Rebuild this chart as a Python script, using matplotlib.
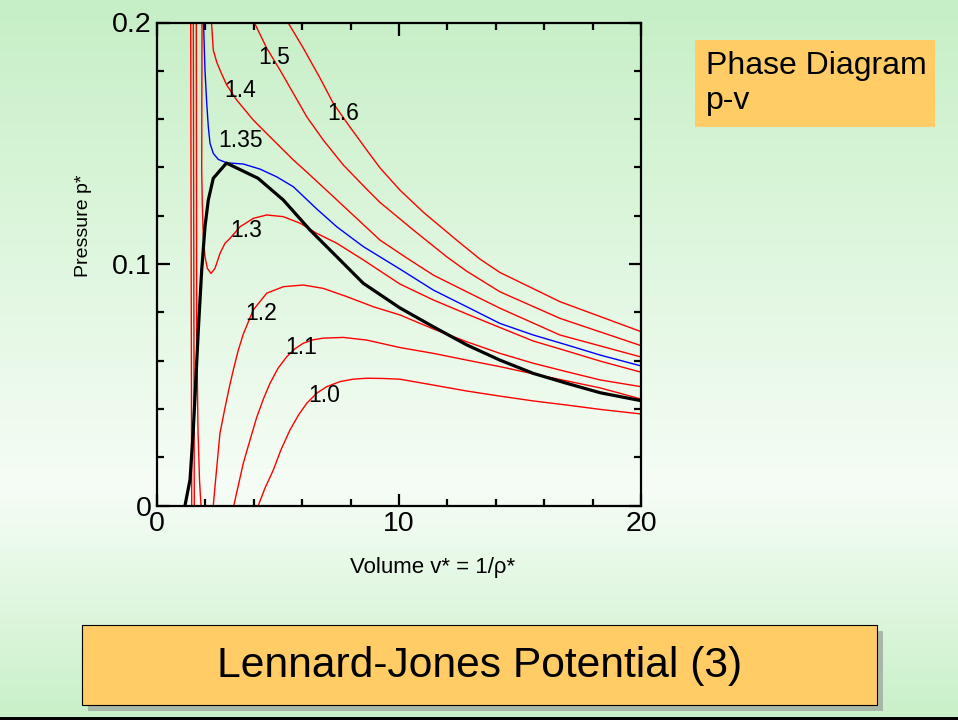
import numpy as np
import matplotlib
matplotlib.use("Agg")
import matplotlib.pyplot as plt
from matplotlib.patches import Rectangle

plt.rcParams['font.family'] = ['Liberation Sans', 'DejaVu Sans']

# ---------------- data ----------------
# liquid (steep) branches
v_liq_10 = [1.392, 1.434]
p_liq_10 = [0.2, 0.0]
v_liq_11 = [1.500, 1.541]
p_liq_11 = [0.2, 0.0]
v_liq_12 = [1.624, 1.640, 1.694, 1.756, 1.818]
p_liq_12 = [0.2, 0.0727, 0.0313, 0.0106, 0.0]

# gas branches
v_10 = [4.186, 4.463, 4.806, 5.12, 5.496, 5.85, 6.186, 6.60, 7.012, 7.56, 8.10, 8.665, 9.35, 10.04, 11.40, 12.80, 14.17, 15.55, 16.93, 18.31, 20.0]
p_10 = [0.0, 0.0072, 0.0147, 0.023, 0.0313, 0.0375, 0.0423, 0.0465, 0.0492, 0.0513, 0.0523, 0.0527, 0.0526, 0.0523, 0.0499, 0.0474, 0.0453, 0.0433, 0.0416, 0.0398, 0.0379]

v_11 = [3.174, 3.566, 3.843, 4.12, 4.40, 4.669, 5.0, 5.36, 5.70, 6.045, 6.45, 6.872, 7.698, 8.665, 10.04, 11.42, 12.80, 14.17, 15.55, 16.93, 18.31, 20.0]
p_11 = [0.0, 0.0175, 0.0271, 0.0365, 0.0442, 0.0506, 0.0568, 0.0616, 0.0649, 0.0672, 0.0686, 0.0693, 0.0696, 0.0685, 0.0654, 0.0630, 0.0602, 0.0575, 0.0545, 0.0516, 0.0487, 0.0441]

v_12 = [2.326, 2.459, 2.603, 2.81, 3.0, 3.153, 3.35, 3.566, 3.979, 4.533, 5.219, 6.045, 6.872, 7.839, 8.938, 10.04, 11.42, 12.80, 14.17, 15.55, 16.93, 18.31, 20.0]
p_12 = [0.0, 0.0147, 0.0300, 0.0405, 0.0495, 0.0561, 0.0640, 0.0710, 0.0810, 0.0879, 0.0906, 0.0913, 0.0899, 0.0865, 0.0823, 0.0789, 0.0731, 0.0678, 0.0630, 0.0589, 0.0554, 0.0520, 0.0492]

v_13 = [1.860, 1.847, 1.872, 1.913, 1.983, 2.079, 2.231, 2.397, 2.603, 2.81, 3.017, 3.43, 3.98, 4.533, 5.22, 5.91, 6.60, 7.43, 8.525, 10.04, 11.42, 12.80, 14.17, 15.55, 16.93, 18.31, 20.0]
p_13 = [0.2, 0.1389, 0.1251, 0.1113, 0.1030, 0.0982, 0.0961, 0.0982, 0.1044, 0.1086, 0.1106, 0.1154, 0.1189, 0.1203, 0.1196, 0.1169, 0.1127, 0.1086, 0.1017, 0.0917, 0.0851, 0.0793, 0.0737, 0.0681, 0.0640, 0.0598, 0.0552]

v_135 = [1.921, 1.983, 2.054, 2.12, 2.19, 2.326, 2.533, 2.88, 3.566, 4.256, 4.946, 5.632, 6.60, 7.43, 8.525, 10.04, 11.42, 12.80, 14.17, 15.55, 16.93, 18.31, 20.0]
p_135 = [0.2, 0.1803, 0.1667, 0.1569, 0.1500, 0.1458, 0.1433, 0.1419, 0.1414, 0.1393, 0.1361, 0.1320, 0.1228, 0.1154, 0.1072, 0.0979, 0.0892, 0.0823, 0.0754, 0.0706, 0.0665, 0.0623, 0.0578]

v_14 = [2.252, 2.326, 2.467, 2.603, 2.88, 3.293, 3.979, 4.806, 5.632, 6.186, 7.285, 9.215, 10.32, 11.42, 12.80, 14.17, 16.65, 20.0]
p_14 = [0.2, 0.1886, 0.1836, 0.1803, 0.1741, 0.1679, 0.1596, 0.1513, 0.1431, 0.1381, 0.1279, 0.1099, 0.1025, 0.0954, 0.0885, 0.0817, 0.0706, 0.0615]

v_15 = [4.02, 4.533, 5.083, 5.632, 6.186, 6.872, 7.698, 8.665, 9.215, 10.59, 11.35, 11.97, 12.80, 14.17, 16.65, 20.0]
p_15 = [0.2, 0.1894, 0.1803, 0.1707, 0.1610, 0.1513, 0.1410, 0.1310, 0.1255, 0.1141, 0.1080, 0.1030, 0.0970, 0.0885, 0.0775, 0.0662]

v_16 = [5.413, 6.045, 6.736, 7.285, 7.975, 8.665, 9.215, 10.04, 11.0, 12.38, 13.35, 14.17, 16.65, 20.0]
p_16 = [0.2, 0.1894, 0.1770, 0.1665, 0.1567, 0.1472, 0.1398, 0.1306, 0.1215, 0.1099, 0.1020, 0.0965, 0.0844, 0.0720]

# coexistence curve
v_coex = [1.157, 1.24, 1.364, 1.50, 1.64, 1.707, 1.847, 1.983, 2.12, 2.326, 2.872, 4.174, 5.22, 6.32, 7.43, 8.525, 10.04, 11.42, 12.80, 14.17, 15.55, 16.93, 18.31, 20.0]
p_coex = [0.0, 0.0043, 0.0106, 0.0313, 0.0590, 0.0727, 0.0975, 0.1154, 0.1265, 0.1355, 0.1418, 0.1355, 0.1265, 0.1141, 0.1030, 0.0920, 0.0818, 0.0740, 0.0665, 0.0602, 0.0547, 0.0506, 0.0467, 0.0434]

labels = ["1.5", "1.4", "1.35", "1.6", "1.3", "1.2", "1.1", "1.0"]
label_v = [4.85, 3.45, 3.45, 7.7, 3.7, 4.3, 5.95, 6.9]
label_p = [0.1855, 0.1720, 0.1510, 0.1625, 0.1140, 0.0795, 0.0655, 0.0455]

x_ticks = [0, 10, 20]
y_ticks = [0, 0.1, 0.2]
y_ticklabels = ["0", "0.1", "0.2"]

# ---------------- figure ----------------
W, H = 958, 720
fig = plt.figure(figsize=(W / 100, H / 100), dpi=100)

# background gradient
bg = fig.add_axes([0, 0, 1, 1], zorder=-10)
bg.set_axis_off()
top_c = np.array([0xC6, 0xEF, 0xC6]) / 255
mid_c = np.array([0xF6, 0xFD, 0xF6]) / 255
bot_c = np.array([0xC8, 0xF0, 0xC8]) / 255
n = 400
yy = np.linspace(0, 1, n)
t1 = np.clip(yy / 0.68, 0, 1)[:, None]
t2 = np.clip((yy - 0.68) / 0.32, 0, 1)[:, None]
g1 = top_c * (1 - t1) + mid_c * t1
g2 = mid_c * (1 - t2) + bot_c * t2
grad = np.where((yy < 0.68)[:, None], g1, g2).reshape(n, 1, 3)
bg.imshow(grad, aspect='auto', extent=[0, 1, 0, 1], origin='upper')
bg.set_xlim(0, 1)
bg.set_ylim(0, 1)

ax = fig.add_axes([157 / W, 1 - 505.5 / H, (641 - 157) / W, (505.5 - 22.5) / H])
ax.patch.set_alpha(0)

red = '#FF0000'
lw = 1.0
for vv, pp in [(v_liq_10, p_liq_10), (v_liq_11, p_liq_11), (v_liq_12, p_liq_12),
               (v_10, p_10), (v_11, p_11), (v_12, p_12), (v_13, p_13),
               (v_14, p_14), (v_15, p_15), (v_16, p_16)]:
    ax.plot(vv, pp, color=red, lw=lw, solid_joinstyle='round')
ax.plot(v_135, p_135, color='#0000FF', lw=lw)
ax.plot(v_coex, p_coex, color='black', lw=2.3)

for s, xv, yv in zip(labels, label_v, label_p):
    ax.text(xv, yv, s, fontsize=16.5, ha='center', va='center', color='black')

ax.set_xlim(0, 20)
ax.set_ylim(0, 0.2)
ax.set_xticks(x_ticks)
ax.set_xticks(np.arange(0, 21, 2), minor=True)
ax.set_yticks(y_ticks)
ax.set_yticklabels(y_ticklabels)
ax.set_yticks(np.arange(0, 0.2001, 0.02), minor=True)
ax.tick_params(which='both', direction='in', top=True, right=True, width=1.6, labelsize=20.5)
ax.tick_params(which='major', length=9)
ax.tick_params(which='minor', length=5)
ax.tick_params(axis='x', pad=4)
ax.tick_params(axis='y', pad=4)
for sp in ax.spines.values():
    sp.set_linewidth(1.6)

fig.text(433 / W, 1 - 568 / H, "Volume v* = 1/\u03c1*", fontsize=16, ha='center', va='center')
fig.text(84 / W, 1 - 226 / H, "Pressure p*", fontsize=14, ha='center', va='center', rotation=90)

# Phase diagram box
fig.patches.append(Rectangle((695 / W, 1 - 127 / H), 240 / W, 87 / H, transform=fig.transFigure,
                             facecolor='#FFCC66', edgecolor='none', zorder=1))
fig.text(706 / W, 1 - 66 / H, "Phase Diagram", fontsize=23, va='center', ha='left')
fig.text(706 / W, 1 - 101 / H, "p-v", fontsize=23, va='center', ha='left')

# Title box with shadow
fig.patches.append(Rectangle((88 / W, 1 - 711 / H), 795 / W, 80 / H, transform=fig.transFigure,
                             facecolor='#A8B8A8', edgecolor='none', zorder=1))
fig.patches.append(Rectangle((82 / W, 1 - 705 / H), 795 / W, 80 / H, transform=fig.transFigure,
                             facecolor='#FFCC66', edgecolor='black', lw=0.8, zorder=2))
fig.text(480 / W, 1 - 666 / H, "Lennard-Jones Potential (3)", fontsize=30.7, va='center', ha='center', zorder=3)

# bottom border line
fig.patches.append(Rectangle((0, 0), 1, 3 / H, transform=fig.transFigure, facecolor='black', edgecolor='none', zorder=5))

fig.savefig("out.png", dpi=100)
